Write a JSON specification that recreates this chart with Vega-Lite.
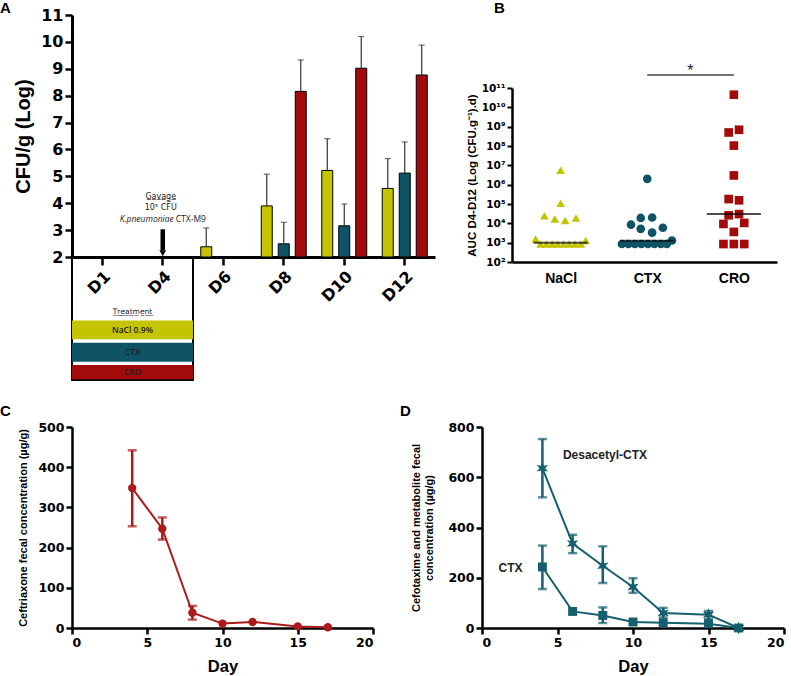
{
  "$schema": "https://vega.github.io/schema/vega-lite/v6.json",
  "background": "white",
  "padding": {"top": 1, "left": 0, "right": 0, "bottom": 0},
  "config": {
    "view": {"stroke": null},
    "font": "Liberation Sans",
    "axis": {"domainColor": "black", "domainWidth": 2.5, "tickColor": "black", "tickWidth": 2.5, "tickSize": 6, "labelColor": "black", "labelFont": "DejaVu Sans", "labelFontWeight": "bold", "labelOverlap": false, "titleColor": "black", "titleFont": "Liberation Sans", "titleFontWeight": "bold", "grid": false},
    "title": {"font": "Liberation Sans", "fontWeight": "bold", "color": "black", "anchor": "start", "frame": "group"}
  },
  "datasets": {
    "bars": [
      {"day": "D6", "group": "NaCl", "value": 2.38, "upper": 3.08},
      {"day": "D8", "group": "NaCl", "value": 3.9, "upper": 5.08},
      {"day": "D8", "group": "CTX", "value": 2.49, "upper": 3.29},
      {"day": "D8", "group": "CRO", "value": 8.16, "upper": 9.33},
      {"day": "D10", "group": "NaCl", "value": 5.22, "upper": 6.4},
      {"day": "D10", "group": "CTX", "value": 3.16, "upper": 3.97},
      {"day": "D10", "group": "CRO", "value": 9.02, "upper": 10.2},
      {"day": "D12", "group": "NaCl", "value": 4.55, "upper": 5.66},
      {"day": "D12", "group": "CTX", "value": 5.12, "upper": 6.28},
      {"day": "D12", "group": "CRO", "value": 8.77, "upper": 9.88}
    ],
    "auc": [
      {"group": "NaCl", "value": 5500000, "jitter": 0},
      {"group": "NaCl", "value": 110000, "jitter": 0},
      {"group": "NaCl", "value": 25000, "jitter": -2.5},
      {"group": "NaCl", "value": 17000, "jitter": -0.9},
      {"group": "NaCl", "value": 14000, "jitter": 0.7},
      {"group": "NaCl", "value": 19000, "jitter": 2.35},
      {"group": "NaCl", "value": 1550, "jitter": -3.85},
      {"group": "NaCl", "value": 850, "jitter": -3.1},
      {"group": "NaCl", "value": 850, "jitter": -2.2},
      {"group": "NaCl", "value": 850, "jitter": -1.3},
      {"group": "NaCl", "value": 850, "jitter": -0.45},
      {"group": "NaCl", "value": 850, "jitter": 0.45},
      {"group": "NaCl", "value": 850, "jitter": 1.3},
      {"group": "NaCl", "value": 850, "jitter": 2.2},
      {"group": "NaCl", "value": 850, "jitter": 3.1},
      {"group": "NaCl", "value": 1300, "jitter": 3.85},
      {"group": "CTX", "value": 2000000, "jitter": 0},
      {"group": "CTX", "value": 8500, "jitter": -2.5},
      {"group": "CTX", "value": 19000, "jitter": -1},
      {"group": "CTX", "value": 20000, "jitter": 0.75},
      {"group": "CTX", "value": 5200, "jitter": -1},
      {"group": "CTX", "value": 3300, "jitter": 0.75},
      {"group": "CTX", "value": 5900, "jitter": 2.4},
      {"group": "CTX", "value": 1300, "jitter": 3.8},
      {"group": "CTX", "value": 850, "jitter": -3.9},
      {"group": "CTX", "value": 850, "jitter": -2.9},
      {"group": "CTX", "value": 850, "jitter": -1.9},
      {"group": "CTX", "value": 850, "jitter": -0.9},
      {"group": "CTX", "value": 850, "jitter": 0.1},
      {"group": "CTX", "value": 850, "jitter": 1.1},
      {"group": "CTX", "value": 850, "jitter": 2.1},
      {"group": "CTX", "value": 850, "jitter": 3.0},
      {"group": "CRO", "value": 45000000000, "jitter": 0},
      {"group": "CRO", "value": 500000000, "jitter": -0.8},
      {"group": "CRO", "value": 690000000, "jitter": 0.8},
      {"group": "CRO", "value": 105000000, "jitter": 0},
      {"group": "CRO", "value": 3000000, "jitter": 0},
      {"group": "CRO", "value": 180000, "jitter": -0.8},
      {"group": "CRO", "value": 155000, "jitter": 0.8},
      {"group": "CRO", "value": 26000, "jitter": -0.8},
      {"group": "CRO", "value": 30000, "jitter": 0.8},
      {"group": "CRO", "value": 9300, "jitter": -1.6},
      {"group": "CRO", "value": 10500, "jitter": 1.6},
      {"group": "CRO", "value": 3600, "jitter": 0},
      {"group": "CRO", "value": 850, "jitter": -1.6},
      {"group": "CRO", "value": 850, "jitter": 0},
      {"group": "CRO", "value": 850, "jitter": 1.6}
    ],
    "medians": [
      {"group": "NaCl", "median": 1000},
      {"group": "CTX", "median": 1250},
      {"group": "CRO", "median": 30000}
    ],
    "ceftriaxone": [
      {"day": 4, "mean": 348, "lo": 253, "hi": 442},
      {"day": 6, "mean": 247, "lo": 220, "hi": 275},
      {"day": 8, "mean": 38, "lo": 21, "hi": 55},
      {"day": 10, "mean": 11, "lo": null, "hi": null},
      {"day": 12, "mean": 15, "lo": null, "hi": null},
      {"day": 15, "mean": 4, "lo": null, "hi": null},
      {"day": 17, "mean": 2, "lo": null, "hi": null}
    ],
    "cefotaxime": [
      {"series": "Desacetyl-CTX", "day": 4, "mean": 636, "lo": 520, "hi": 752},
      {"series": "Desacetyl-CTX", "day": 6, "mean": 336, "lo": 298, "hi": 371},
      {"series": "Desacetyl-CTX", "day": 8, "mean": 248, "lo": 179, "hi": 325},
      {"series": "Desacetyl-CTX", "day": 10, "mean": 163, "lo": 140, "hi": 198},
      {"series": "Desacetyl-CTX", "day": 12, "mean": 60, "lo": 42, "hi": 80},
      {"series": "Desacetyl-CTX", "day": 15, "mean": 53, "lo": 35, "hi": 68},
      {"series": "Desacetyl-CTX", "day": 17, "mean": 0, "lo": null, "hi": null},
      {"series": "CTX", "day": 4, "mean": 243, "lo": 155, "hi": 328},
      {"series": "CTX", "day": 6, "mean": 66, "lo": null, "hi": null},
      {"series": "CTX", "day": 8, "mean": 50, "lo": 20, "hi": 82},
      {"series": "CTX", "day": 10, "mean": 24, "lo": null, "hi": null},
      {"series": "CTX", "day": 12, "mean": 21, "lo": null, "hi": null},
      {"series": "CTX", "day": 15, "mean": 17, "lo": null, "hi": null},
      {"series": "CTX", "day": 17, "mean": 0, "lo": null, "hi": null}
    ]
  },
  "bounds": "flush",
  "spacing": 412,
  "vconcat": [
    {
      "bounds": "flush",
      "spacing": 77,
      "hconcat": [
        {
          "width": 363,
          "height": 242,
          "title": {"text": "A", "fontSize": 15, "dx": -72, "offset": -9},
          "layer": [
            {
              "data": {"name": "bars"},
              "mark": {"type": "bar", "stroke": "black", "strokeWidth": 1},
              "encoding": {
                "x": {"field": "day", "type": "nominal", "scale": {"domain": ["D1", "D4", "D6", "D8", "D10", "D12"], "paddingInner": 0, "paddingOuter": 0}, "axis": {"title": null, "labelAngle": -45, "labelFontSize": 16, "tickSize": 8, "labelPadding": 3, "domainWidth": 3}},
                "xOffset": {"field": "group", "type": "nominal", "scale": {"domain": ["NaCl", "CTX", "CRO"], "paddingInner": 0.353, "paddingOuter": 0.456}},
                "y": {"field": "value", "type": "quantitative", "scale": {"domain": [2, 11], "zero": false, "nice": false}, "axis": {"values": [2, 3, 4, 5, 6, 7, 8, 9, 10, 11], "title": "CFU/g (Log)", "titleFontSize": 20, "titlePadding": 7, "labelFontSize": 16, "tickSize": 7, "domainWidth": 3}},
                "y2": {"datum": 2},
                "color": {"field": "group", "type": "nominal", "scale": {"domain": ["NaCl", "CTX", "CRO"], "range": ["#C4C400", "#0E5466", "#A30B0B"]}, "legend": null}
              }
            },
            {
              "data": {"name": "bars"},
              "mark": {"type": "rule", "color": "#333333", "strokeWidth": 1.2},
              "encoding": {
                "x": {"field": "day", "type": "nominal"},
                "xOffset": {"field": "group", "type": "nominal"},
                "y": {"field": "value", "type": "quantitative", "axis": {"values": [2, 3, 4, 5, 6, 7, 8, 9, 10, 11], "title": "CFU/g (Log)", "titleFontSize": 20, "titlePadding": 7, "labelFontSize": 16, "tickSize": 7, "domainWidth": 3}},
                "y2": {"field": "upper"}
              }
            },
            {
              "data": {"name": "bars"},
              "mark": {"type": "tick", "orient": "horizontal", "size": 6, "thickness": 1.2, "color": "#333333"},
              "encoding": {
                "x": {"field": "day", "type": "nominal"},
                "xOffset": {"field": "group", "type": "nominal"},
                "y": {"field": "upper", "type": "quantitative", "axis": {"values": [2, 3, 4, 5, 6, 7, 8, 9, 10, 11], "title": "CFU/g (Log)", "titleFontSize": 20, "titlePadding": 7, "labelFontSize": 16, "tickSize": 7, "domainWidth": 3}}
              }
            },
            {
              "data": {"values": [{}]},
              "mark": {"type": "rect", "fill": "white", "fillOpacity": 0, "stroke": "black", "strokeWidth": 2},
              "encoding": {"x": {"datum": "D1", "bandPosition": 0}, "x2": {"datum": "D4", "bandPosition": 1}, "y": {"datum": 2, "axis": {"values": [2, 3, 4, 5, 6, 7, 8, 9, 10, 11], "title": "CFU/g (Log)", "titleFontSize": 20, "titlePadding": 7, "labelFontSize": 16, "tickSize": 7, "domainWidth": 3}}, "y2": {"datum": -2.57}}
            },
            {
              "data": {"values": [{}]},
              "mark": {"type": "rect"},
              "encoding": {"x": {"datum": "D1", "bandPosition": 0}, "x2": {"datum": "D4", "bandPosition": 1}, "y": {"datum": -0.36, "axis": {"values": [2, 3, 4, 5, 6, 7, 8, 9, 10, 11], "title": "CFU/g (Log)", "titleFontSize": 20, "titlePadding": 7, "labelFontSize": 16, "tickSize": 7, "domainWidth": 3}}, "y2": {"datum": -1.06}, "color": {"datum": "NaCl"}}
            },
            {
              "data": {"values": [{}]},
              "mark": {"type": "rect"},
              "encoding": {"x": {"datum": "D1", "bandPosition": 0}, "x2": {"datum": "D4", "bandPosition": 1}, "y": {"datum": -1.19, "axis": {"values": [2, 3, 4, 5, 6, 7, 8, 9, 10, 11], "title": "CFU/g (Log)", "titleFontSize": 20, "titlePadding": 7, "labelFontSize": 16, "tickSize": 7, "domainWidth": 3}}, "y2": {"datum": -1.9}, "color": {"datum": "CTX"}}
            },
            {
              "data": {"values": [{}]},
              "mark": {"type": "rect"},
              "encoding": {"x": {"datum": "D1", "bandPosition": 0}, "x2": {"datum": "D4", "bandPosition": 1}, "y": {"datum": -2.02, "axis": {"values": [2, 3, 4, 5, 6, 7, 8, 9, 10, 11], "title": "CFU/g (Log)", "titleFontSize": 20, "titlePadding": 7, "labelFontSize": 16, "tickSize": 7, "domainWidth": 3}}, "y2": {"datum": -2.55}, "color": {"datum": "CRO"}}
            },
            {
              "data": {"values": [{"label": "T̲r̲e̲a̲t̲m̲e̲n̲t̲", "pos": -0.03}]},
              "mark": {"type": "text", "font": "DejaVu Sans", "fontSize": 7.5, "color": "#222222", "baseline": "middle"},
              "encoding": {"x": {"datum": "D4", "bandPosition": 0}, "y": {"field": "pos", "type": "quantitative", "axis": {"values": [2, 3, 4, 5, 6, 7, 8, 9, 10, 11], "title": "CFU/g (Log)", "titleFontSize": 20, "titlePadding": 7, "labelFontSize": 16, "tickSize": 7, "domainWidth": 3}}, "text": {"field": "label"}}
            },
            {
              "data": {"values": [{"label": "NaCl 0.9%", "pos": -0.71}, {"label": "CTX", "pos": -1.55}, {"label": "CRO", "pos": -2.29}]},
              "mark": {"type": "text", "font": "Open Sans", "fontWeight": 600, "fontSize": 8.5, "color": "#222222", "baseline": "middle"},
              "encoding": {"x": {"datum": "D4", "bandPosition": 0}, "y": {"field": "pos", "type": "quantitative", "axis": {"values": [2, 3, 4, 5, 6, 7, 8, 9, 10, 11], "title": "CFU/g (Log)", "titleFontSize": 20, "titlePadding": 7, "labelFontSize": 16, "tickSize": 7, "domainWidth": 3}}, "text": {"field": "label"}}
            },
            {
              "data": {"values": [{"label": "G̲a̲v̲a̲g̲e̲", "pos": 4.25}, {"label": "10⁵ CFU", "pos": 3.84}]},
              "mark": {"type": "text", "font": "DejaVu Sans", "fontSize": 8, "color": "#222222", "baseline": "middle", "dx": -2},
              "encoding": {"x": {"datum": "D4"}, "y": {"field": "pos", "type": "quantitative", "axis": {"values": [2, 3, 4, 5, 6, 7, 8, 9, 10, 11], "title": "CFU/g (Log)", "titleFontSize": 20, "titlePadding": 7, "labelFontSize": 16, "tickSize": 7, "domainWidth": 3}}, "text": {"field": "label"}}
            },
            {
              "data": {"values": [{}]},
              "mark": {"type": "text", "font": "Open Sans", "fontSize": 8.5, "fontStyle": "italic", "color": "#222222", "baseline": "middle", "align": "right", "dx": 11, "text": "K.pneumoniae"},
              "encoding": {"x": {"datum": "D4"}, "y": {"datum": 3.42, "axis": {"values": [2, 3, 4, 5, 6, 7, 8, 9, 10, 11], "title": "CFU/g (Log)", "titleFontSize": 20, "titlePadding": 7, "labelFontSize": 16, "tickSize": 7, "domainWidth": 3}}}
            },
            {
              "data": {"values": [{}]},
              "mark": {"type": "text", "font": "Open Sans", "fontSize": 8.5, "color": "#222222", "baseline": "middle", "align": "left", "dx": 13, "text": "CTX-M9"},
              "encoding": {"x": {"datum": "D4"}, "y": {"datum": 3.42, "axis": {"values": [2, 3, 4, 5, 6, 7, 8, 9, 10, 11], "title": "CFU/g (Log)", "titleFontSize": 20, "titlePadding": 7, "labelFontSize": 16, "tickSize": 7, "domainWidth": 3}}}
            },
            {
              "data": {"values": [{}]},
              "mark": {"type": "rule", "color": "black", "strokeWidth": 4.5},
              "encoding": {"x": {"datum": "D4"}, "y": {"datum": 3.03, "axis": {"values": [2, 3, 4, 5, 6, 7, 8, 9, 10, 11], "title": "CFU/g (Log)", "titleFontSize": 20, "titlePadding": 7, "labelFontSize": 16, "tickSize": 7, "domainWidth": 3}}, "y2": {"datum": 2.25}}
            },
            {
              "data": {"values": [{}]},
              "mark": {"type": "point", "shape": "triangle-down", "filled": true, "color": "black", "opacity": 1, "size": 45},
              "encoding": {"x": {"datum": "D4"}, "y": {"datum": 2.14, "axis": {"values": [2, 3, 4, 5, 6, 7, 8, 9, 10, 11], "title": "CFU/g (Log)", "titleFontSize": 20, "titlePadding": 7, "labelFontSize": 16, "tickSize": 7, "domainWidth": 3}}}
            }
          ]
        },
        {
          "bounds": "flush",
          "spacing": 10,
          "vconcat": [
            {
              "width": 265,
              "height": 63,
              "title": {"text": "B", "fontSize": 15, "dx": -18, "offset": -1},
              "data": {"values": [{}]},
              "mark": {"type": "text", "text": ""},
              "encoding": {}
            },
            {
              "width": 265,
              "height": 174,
              "layer": [
                {
                  "data": {"name": "auc"},
                  "mark": {"type": "point", "filled": true, "size": 75, "opacity": 1},
                  "encoding": {
                    "x": {"field": "group", "type": "nominal", "scale": {"type": "point", "domain": ["NaCl", "CTX", "CRO"], "padding": 0.53, "align": 0.53}, "axis": {"title": null, "ticks": false, "labelFont": "Liberation Sans", "labelFontSize": 14, "labelPadding": 9, "labelAngle": 0}},
                    "xOffset": {"field": "jitter", "type": "quantitative", "scale": {"domain": [-5, 5], "range": [-32.5, 32.5]}},
                    "y": {"field": "value", "type": "quantitative", "scale": {"type": "log", "domain": [100, 100000000000], "nice": false}, "axis": {"values": [100, 1000, 10000, 100000, 1000000, 10000000, 100000000, 1000000000, 10000000000, 100000000000], "labelExpr": "'10' + ['⁰','¹','²','³','⁴','⁵','⁶','⁷','⁸','⁹','¹⁰','¹¹'][round(log(datum.value)/LN10)]", "labelFontSize": 10.5, "tickSize": 5, "tickWidth": 2, "title": "AUC D4-D12 (Log (CFU.g⁻¹).d)", "titleFontSize": 11.5}},
                    "color": {"field": "group", "type": "nominal", "scale": {"domain": ["NaCl", "CTX", "CRO"], "range": ["#C4C400", "#0F5A6C", "#A30B0B"]}, "legend": null},
                    "shape": {"field": "group", "type": "nominal", "scale": {"domain": ["NaCl", "CTX", "CRO"], "range": ["triangle-up", "circle", "square"]}, "legend": null}
                  }
                },
                {
                  "data": {"name": "medians"},
                  "mark": {"type": "tick", "orient": "horizontal", "size": 54, "thickness": 2, "color": "black"},
                  "encoding": {"x": {"field": "group", "type": "nominal"}, "y": {"field": "median", "type": "quantitative"}}
                },
                {
                  "data": {"values": [{}]},
                  "mark": {"type": "rule", "color": "#444444", "strokeWidth": 1.5},
                  "encoding": {"x": {"datum": "CTX"}, "x2": {"datum": "CRO"}, "y": {"datum": 470000000000}}
                },
                {
                  "data": {"values": [{}]},
                  "mark": {"type": "text", "text": "*", "fontSize": 16, "dx": 43, "dy": 3, "font": "Liberation Sans", "color": "#222222"},
                  "encoding": {"x": {"datum": "CTX"}, "y": {"datum": 1100000000000}}
                }
              ]
            }
          ]
        }
      ]
    },
    {
      "bounds": "flush",
      "spacing": 109,
      "hconcat": [
        {
          "width": 301,
          "height": 201,
          "title": {"text": "C", "fontSize": 15, "dx": -72, "offset": 2},
          "data": {"name": "ceftriaxone"},
          "encoding": {"x": {"field": "day", "type": "quantitative", "scale": {"domain": [0, 20], "nice": false}, "axis": {"values": [0, 5, 10, 15, 20], "title": "Day", "titleFontSize": 16.5, "labelFontSize": 12.5, "titlePadding": 10}}},
          "layer": [
            {
              "mark": {"type": "rule", "color": "#AE1A1A", "strokeWidth": 2.5},
              "encoding": {"y": {"field": "lo", "type": "quantitative", "title": "Ceftriaxone fecal concentration (µg/g)"}, "y2": {"field": "hi"}}
            },
            {
              "mark": {"type": "tick", "orient": "horizontal", "size": 9, "thickness": 2.5, "color": "#AE1A1A"},
              "encoding": {"y": {"field": "lo", "type": "quantitative", "title": "Ceftriaxone fecal concentration (µg/g)"}}
            },
            {
              "mark": {"type": "tick", "orient": "horizontal", "size": 9, "thickness": 2.5, "color": "#AE1A1A"},
              "encoding": {"y": {"field": "hi", "type": "quantitative", "title": "Ceftriaxone fecal concentration (µg/g)"}}
            },
            {
              "mark": {"type": "line", "color": "#AE1A1A", "strokeWidth": 2},
              "encoding": {"y": {"field": "mean", "type": "quantitative", "title": "Ceftriaxone fecal concentration (µg/g)", "scale": {"domain": [0, 500], "nice": false}, "axis": {"values": [0, 100, 200, 300, 400, 500], "titleFontSize": 11, "titlePadding": 9, "labelFontSize": 12.5}}}
            },
            {
              "mark": {"type": "point", "filled": true, "size": 70, "color": "#AE1A1A", "opacity": 1},
              "encoding": {"y": {"field": "mean", "type": "quantitative", "title": "Ceftriaxone fecal concentration (µg/g)"}}
            }
          ]
        },
        {
          "width": 302,
          "height": 201,
          "title": {"text": "D", "fontSize": 15, "dx": -82, "offset": 2},
          "encoding": {"x": {"field": "day", "type": "quantitative", "scale": {"domain": [0, 20], "nice": false}, "axis": {"values": [0, 5, 10, 15, 20], "title": "Day", "titleFontSize": 16.5, "labelFontSize": 12.5, "titlePadding": 10}}},
          "layer": [
            {
              "data": {"name": "cefotaxime"},
              "mark": {"type": "rule", "color": "#14606F", "strokeWidth": 2.5},
              "encoding": {"y": {"field": "lo", "type": "quantitative", "title": ["Cefotaxime and metabolite  fecal", "concentration (µg/g)"]}, "y2": {"field": "hi"}}
            },
            {
              "data": {"name": "cefotaxime"},
              "mark": {"type": "tick", "orient": "horizontal", "size": 9, "thickness": 2.5, "color": "#14606F"},
              "encoding": {"y": {"field": "lo", "type": "quantitative", "title": ["Cefotaxime and metabolite  fecal", "concentration (µg/g)"]}}
            },
            {
              "data": {"name": "cefotaxime"},
              "mark": {"type": "tick", "orient": "horizontal", "size": 9, "thickness": 2.5, "color": "#14606F"},
              "encoding": {"y": {"field": "hi", "type": "quantitative", "title": ["Cefotaxime and metabolite  fecal", "concentration (µg/g)"]}}
            },
            {
              "data": {"name": "cefotaxime"},
              "mark": {"type": "line", "color": "#14606F", "strokeWidth": 2},
              "encoding": {"detail": {"field": "series"}, "y": {"field": "mean", "type": "quantitative", "title": ["Cefotaxime and metabolite  fecal", "concentration (µg/g)"], "scale": {"domain": [0, 800], "nice": false}, "axis": {"values": [0, 200, 400, 600, 800], "titleFontSize": 11, "titlePadding": 13, "labelFontSize": 12.5}}}
            },
            {
              "data": {"name": "cefotaxime"},
              "transform": [{"filter": "datum.series === 'Desacetyl-CTX'"}],
              "mark": {"type": "point", "filled": true, "color": "#14606F", "opacity": 1, "size": 170, "shape": "M0,-1L0.22,-0.38L0.87,-0.5L0.44,0L0.87,0.5L0.22,0.38L0,1L-0.22,0.38L-0.87,0.5L-0.44,0L-0.87,-0.5L-0.22,-0.38Z"},
              "encoding": {"y": {"field": "mean", "type": "quantitative", "title": ["Cefotaxime and metabolite  fecal", "concentration (µg/g)"]}}
            },
            {
              "data": {"name": "cefotaxime"},
              "transform": [{"filter": "datum.series === 'CTX'"}],
              "mark": {"type": "point", "filled": true, "color": "#14606F", "opacity": 1, "size": 80, "shape": "square"},
              "encoding": {"y": {"field": "mean", "type": "quantitative", "title": ["Cefotaxime and metabolite  fecal", "concentration (µg/g)"]}}
            },
            {
              "data": {"values": [{"label": "Desacetyl-CTX", "d": 5.36, "c": 690}, {"label": "CTX", "d": 1.1, "c": 240}]},
              "mark": {"type": "text", "align": "left", "baseline": "middle", "fontWeight": "bold", "fontSize": 12, "font": "Liberation Sans", "color": "#222222"},
              "encoding": {"x": {"field": "d", "type": "quantitative"}, "y": {"field": "c", "type": "quantitative"}, "text": {"field": "label"}}
            }
          ]
        }
      ]
    }
  ]
}
